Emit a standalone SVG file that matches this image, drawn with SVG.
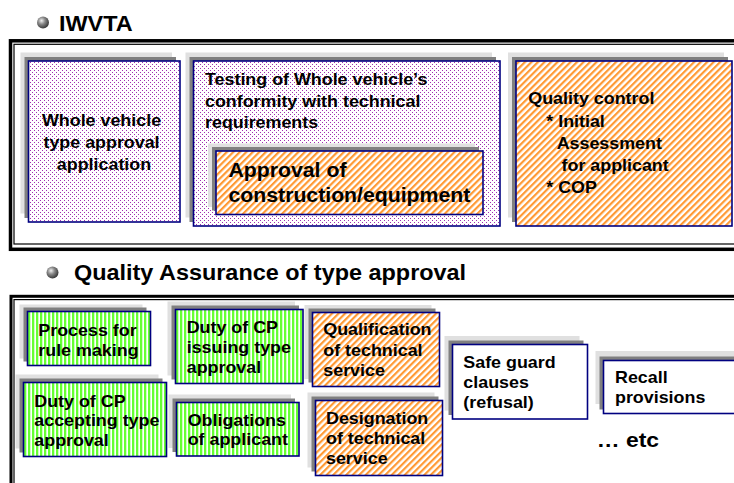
<svg xmlns="http://www.w3.org/2000/svg" width="734" height="483" viewBox="0 0 734 483">
  <defs>
    <style>
      .lt { fill: #e0e0e0; }
      .dk { fill: #808080; }
      .box { stroke: #000080; stroke-width: 1.6; }
      .dots { fill: url(#dots); }
      .stripes { fill: url(#greenStripes); }
      .hatch { fill: url(#orangeHatch); }
      .plain { fill: #ffffff; }
      .t { font-family: "Liberation Sans", Arial, sans-serif; font-weight: bold; font-size: 16.4px; fill: #000000; }
      .big { font-size: 19.5px; }
      .head { font-size: 21.5px; }
      .frame { fill: none; stroke: #000000; }
    </style>
    <!-- purple dotted fill -->
    <pattern id="dots" width="4" height="4" patternUnits="userSpaceOnUse">
      <rect width="4" height="4" fill="#ffffff"/>
      <rect x="0" y="0" width="1" height="1" fill="#a030b0"/>
      <rect x="2" y="2" width="1" height="1" fill="#a030b0"/>
    </pattern>
    <!-- green vertical stripes -->
    <pattern id="greenStripes" width="4" height="4" patternUnits="userSpaceOnUse">
      <rect width="4" height="4" fill="#ffffff"/>
      <rect x="0" y="0" width="2.3" height="4" fill="#66ff33"/>
    </pattern>
    <!-- orange diagonal hatch -->
    <pattern id="orangeHatch" width="4.6" height="4.6" patternUnits="userSpaceOnUse" patternTransform="rotate(45)">
      <rect width="4.6" height="4.6" fill="#ffffff"/>
      <rect x="0" y="0" width="2.2" height="4.6" fill="#ff9933"/>
    </pattern>
    <radialGradient id="ball" cx="38%" cy="35%" r="65%">
      <stop offset="0" stop-color="#f0f0f0"/>
      <stop offset="0.45" stop-color="#8a8a8a"/>
      <stop offset="1" stop-color="#3a3a3a"/>
    </radialGradient>
  </defs>

  <rect width="734" height="483" fill="#ffffff"/>

  <!-- section headings -->
  <g id="heading-iwvta">
    <circle cx="43" cy="22.5" r="6" fill="url(#ball)"/>
    <text class="t head" transform="translate(59 30.5) scale(1.09 1)">IWVTA</text>
  </g>
  <g id="heading-qa">
    <circle cx="52.5" cy="272.5" r="6" fill="url(#ball)"/>
    <text class="t head" transform="translate(74 279.5) scale(1.09 1)">Quality Assurance of type approval</text>
  </g>

  <!-- double-line frames -->
  <g id="frame-top">
    <rect class="frame" x="10.5" y="40.8" width="740" height="208.5" stroke-width="3.5"/>
    <rect class="frame" x="14" y="44.3" width="740" height="199.7" stroke-width="1.2"/>
  </g>
  <g id="frame-bottom">
    <rect class="frame" x="11" y="296.3" width="740" height="200" stroke-width="3"/>
    <rect class="frame" x="14" y="299.6" width="740" height="200" stroke-width="1.2"/>
  </g>

  <!-- IWVTA boxes -->
  <g id="whole-vehicle-application">
    <rect class="lt" x="20.5" y="52.5" width="151.5" height="161"/>
    <rect class="dk" x="24.5" y="57" width="151.5" height="161"/>
    <rect class="box dots" x="28.5" y="61" width="151.5" height="161"/>
    <text class="t" text-anchor="middle" transform="translate(104 126) scale(1.09 1)">
      <tspan x="0" y="0">Whole vehicle</tspan>
      <tspan x="0" y="22">type approval</tspan>
      <tspan x="0" y="44">application</tspan>
    </text>
  </g>

  <g id="testing-conformity">
    <rect class="lt" x="185.5" y="52.5" width="306.5" height="165"/>
    <rect class="dk" x="189.5" y="57" width="306.5" height="165"/>
    <rect class="box dots" x="193.5" y="61" width="306.5" height="165"/>
    <text class="t" transform="translate(205 85) scale(1.09 1)">
      <tspan x="0" y="0">Testing of Whole vehicle’s</tspan>
      <tspan x="0" y="21.7">conformity with technical</tspan>
      <tspan x="0" y="43.4">requirements</tspan>
    </text>
  </g>

  <g id="approval-construction">
    <rect class="lt" x="208" y="143.5" width="267" height="63.5"/>
    <rect class="dk" x="212" y="147" width="267" height="63.5"/>
    <rect class="box hatch" x="216" y="151" width="267" height="63.5"/>
    <text class="t big" transform="translate(228.5 177.3) scale(1.09 1)">
      <tspan x="0" y="0">Approval of</tspan>
      <tspan x="0" y="24.4">construction/equipment</tspan>
    </text>
  </g>

  <g id="quality-control">
    <rect class="lt" x="508" y="52.5" width="216" height="165"/>
    <rect class="dk" x="512" y="57" width="216" height="165"/>
    <rect class="box hatch" x="516" y="61" width="216" height="165"/>
    <text class="t" transform="translate(528.3 104.3) scale(1.09 1)">
      <tspan x="0" y="0">Quality control</tspan>
      <tspan x="16.5" y="22.5">* Initial</tspan>
      <tspan x="26" y="45">Assessment</tspan>
      <tspan x="30.5" y="67">for applicant</tspan>
      <tspan x="16.5" y="89">* COP</tspan>
    </text>
  </g>

  <!-- quality assurance boxes -->
  <g id="process-rule-making">
    <rect class="lt" x="19.5" y="304.5" width="123" height="54"/>
    <rect class="dk" x="23.5" y="307.5" width="123" height="54"/>
    <rect class="box stripes" x="27.5" y="311.5" width="123" height="54"/>
    <text class="t" transform="translate(38.3 335.7) scale(1.09 1)">
      <tspan x="0" y="0">Process for</tspan>
      <tspan x="0" y="20">rule making</tspan>
    </text>
  </g>

  <g id="duty-issuing">
    <rect class="lt" x="167.5" y="301.5" width="127.5" height="74"/>
    <rect class="dk" x="171.5" y="305.5" width="127.5" height="74"/>
    <rect class="box stripes" x="175.5" y="309.5" width="127.5" height="74"/>
    <text class="t" transform="translate(186.7 333.3) scale(1.09 1)">
      <tspan x="0" y="0">Duty of CP</tspan>
      <tspan x="0" y="20">issuing type</tspan>
      <tspan x="0" y="40">approval</tspan>
    </text>
  </g>

  <g id="qualification-technical-service">
    <rect class="lt" x="304.5" y="305" width="127" height="74"/>
    <rect class="dk" x="308.5" y="308.5" width="127" height="74"/>
    <rect class="box hatch" x="312.5" y="312.5" width="127" height="74"/>
    <text class="t" transform="translate(323.3 335.3) scale(1.09 1)">
      <tspan x="0" y="0">Qualification</tspan>
      <tspan x="0" y="20.3">of technical</tspan>
      <tspan x="0" y="40.6">service</tspan>
    </text>
  </g>

  <g id="safe-guard-clauses">
    <rect class="lt" x="444.5" y="336" width="135" height="74.5"/>
    <rect class="dk" x="448.5" y="340.5" width="135" height="74.5"/>
    <rect class="box plain" x="452.5" y="344.5" width="135" height="74.5"/>
    <text class="t" transform="translate(463.3 367.7) scale(1.09 1)">
      <tspan x="0" y="0">Safe guard</tspan>
      <tspan x="0" y="20.3">clauses</tspan>
      <tspan x="0" y="40.6">(refusal)</tspan>
    </text>
  </g>

  <g id="recall-provisions">
    <rect class="lt" x="595.5" y="351" width="150" height="53"/>
    <rect class="dk" x="599.5" y="356.5" width="150" height="53"/>
    <rect class="box plain" x="603.5" y="360.5" width="150" height="53"/>
    <text class="t" transform="translate(615 383.3) scale(1.09 1)">
      <tspan x="0" y="0">Recall</tspan>
      <tspan x="0" y="19.5">provisions</tspan>
    </text>
  </g>

  <g id="duty-accepting">
    <rect class="lt" x="15.5" y="374.5" width="143" height="74"/>
    <rect class="dk" x="19.5" y="378.5" width="143" height="74"/>
    <rect class="box stripes" x="23.5" y="382.5" width="143" height="74"/>
    <text class="t" transform="translate(34.3 406.5) scale(1.09 1)">
      <tspan x="0" y="0">Duty of CP</tspan>
      <tspan x="0" y="20">accepting type</tspan>
      <tspan x="0" y="40">approval</tspan>
    </text>
  </g>

  <g id="obligations-applicant">
    <rect class="lt" x="168.5" y="394.5" width="122.5" height="53.5"/>
    <rect class="dk" x="172.5" y="398.5" width="122.5" height="53.5"/>
    <rect class="box stripes" x="176.5" y="402.5" width="122.5" height="53.5"/>
    <text class="t" transform="translate(187.7 425.7) scale(1.09 1)">
      <tspan x="0" y="0">Obligations</tspan>
      <tspan x="0" y="19.5">of applicant</tspan>
    </text>
  </g>

  <g id="designation-technical-service">
    <rect class="lt" x="307.5" y="392.5" width="127" height="75"/>
    <rect class="dk" x="311.5" y="396.5" width="127" height="75"/>
    <rect class="box hatch" x="315.5" y="400.5" width="127" height="75"/>
    <text class="t" transform="translate(326 423.5) scale(1.09 1)">
      <tspan x="0" y="0">Designation</tspan>
      <tspan x="0" y="20.5">of technical</tspan>
      <tspan x="0" y="41">service</tspan>
    </text>
  </g>

  <g id="etc">
    <text class="t" style="font-size:21px" transform="translate(596.7 446.7) scale(1.09 1)">… etc</text>
  </g>
</svg>
